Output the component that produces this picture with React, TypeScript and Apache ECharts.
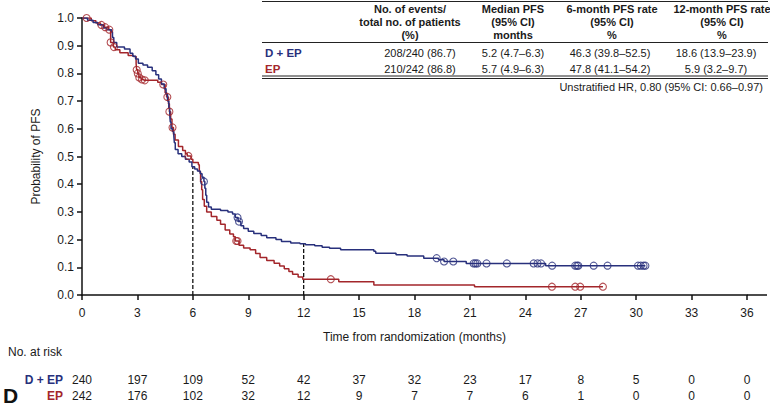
import React, { useEffect, useRef } from "react";
import * as echarts from "echarts";

const NAVY = "#28307c";
const RED = "#a3262b";
const FONT = "'Liberation Sans', Arial, sans-serif";

// Kaplan-Meier step points [months, probability]
const depCurve: number[][] = [
  [0, 1.0], [0.3, 0.992], [0.6, 0.984], [0.85, 0.976], [1.15, 0.964], [1.35, 0.958], [1.6, 0.95], [1.65, 0.93],
  [1.72, 0.912], [1.88, 0.895], [2.3, 0.888], [2.6, 0.873], [2.75, 0.862], [2.9, 0.852], [3.05, 0.837], [3.3, 0.83],
  [3.55, 0.822], [3.8, 0.81], [4.0, 0.795], [4.15, 0.78], [4.3, 0.762], [4.45, 0.745], [4.55, 0.725], [4.63, 0.7],
  [4.7, 0.675], [4.75, 0.65], [4.78, 0.625], [4.82, 0.6], [4.9, 0.59], [4.97, 0.575], [5.0, 0.55], [5.05, 0.525],
  [5.2, 0.51], [5.4, 0.5], [5.6, 0.49], [5.8, 0.48], [5.95, 0.463], [6.1, 0.455], [6.25, 0.448], [6.4, 0.438],
  [6.5, 0.425], [6.6, 0.41], [6.65, 0.385], [6.7, 0.36], [6.75, 0.335], [6.85, 0.318], [7.0, 0.31], [7.5, 0.305],
  [7.9, 0.3], [8.15, 0.292], [8.3, 0.28], [8.45, 0.265], [8.6, 0.25], [8.75, 0.24], [9.0, 0.23], [9.3, 0.222],
  [9.7, 0.215], [10.0, 0.207], [10.5, 0.2], [10.8, 0.193], [11.3, 0.188], [11.8, 0.185], [12.1, 0.181], [12.6, 0.178],
  [13.0, 0.172], [13.4, 0.169], [14.0, 0.163], [15.8, 0.158], [15.9, 0.151], [17.0, 0.145], [17.6, 0.141], [18.5, 0.133],
  [19.3, 0.127], [19.6, 0.121], [20.8, 0.114], [25.1, 0.106], [30.5, 0.106],
];
const epCurve: number[][] = [
  [0, 1.0], [0.5, 0.99], [0.75, 0.982], [1.0, 0.975], [1.2, 0.967], [1.45, 0.958], [1.55, 0.912], [1.7, 0.895],
  [1.8, 0.885], [2.05, 0.875], [2.5, 0.865], [2.78, 0.861], [2.93, 0.835], [2.96, 0.813], [3.02, 0.8], [3.08, 0.785],
  [3.2, 0.778], [3.35, 0.775], [4.1, 0.768], [4.3, 0.76], [4.5, 0.73], [4.58, 0.715], [4.68, 0.69], [4.73, 0.662],
  [4.8, 0.635], [4.87, 0.605], [4.95, 0.58], [5.04, 0.56], [5.22, 0.536], [5.45, 0.522], [5.6, 0.51], [5.7, 0.502],
  [5.9, 0.49], [6.0, 0.478], [6.3, 0.47], [6.35, 0.445], [6.42, 0.41], [6.48, 0.38], [6.53, 0.345], [6.62, 0.32],
  [6.75, 0.3], [7.0, 0.283], [7.3, 0.27], [7.5, 0.255], [7.75, 0.235], [8.0, 0.22], [8.2, 0.21], [8.3, 0.195],
  [8.5, 0.18], [8.75, 0.17], [9.1, 0.163], [9.4, 0.15], [9.64, 0.135], [10.0, 0.125], [10.4, 0.115], [10.7, 0.105],
  [10.95, 0.095], [11.2, 0.085], [11.4, 0.075], [11.7, 0.065], [11.95, 0.057], [13.9, 0.048], [15.8, 0.036],
  [21.25, 0.03], [28.2, 0.03],
];
const depCensor = [6.6, 8.42, 8.5, 19.2, 19.6, 20.1, 21.2, 21.3, 21.4, 21.9, 23.0, 24.45, 24.66, 24.85, 25.45,
  26.7, 26.8, 26.87, 27.7, 28.45, 30.1, 30.25, 30.4, 30.5];
const epCensor = [0.25, 1.05, 1.25, 1.48, 1.55, 1.73, 2.96, 3.02, 3.1, 3.25, 3.4, 4.4, 4.62, 4.73, 4.9, 5.76,
  8.35, 8.42, 13.47, 25.44, 26.7, 26.97, 28.2];

const landmarkTimes = [6, 12];
const landmarkRates = [0.463, 0.186];

const riskTimes = [0, 3, 6, 9, 12, 15, 18, 21, 24, 27, 30, 33, 36];
const depRisk = [240, 197, 109, 52, 42, 37, 32, 23, 17, 8, 5, 0, 0];
const epRisk = [242, 176, 102, 32, 12, 9, 7, 7, 6, 1, 0, 0, 0];

const tableHeaders = [
  ["No. of events/", "total no. of patients", "(%)"],
  ["Median PFS", "(95% CI)", "months"],
  ["6-month PFS rate", "(95% CI)", "%"],
  ["12-month PFS rate", "(95% CI)", "%"],
];
const depRow = ["208/240 (86.7)", "5.2 (4.7\u20136.3)", "46.3 (39.8\u201352.5)", "18.6 (13.9\u201323.9)"];
const epRow = ["210/242 (86.8)", "5.7 (4.9\u20136.3)", "47.8 (41.1\u201354.2)", "5.9 (3.2\u20139.7)"];
const hrText = "Unstratified HR, 0.80 (95% CI: 0.66\u20130.97)";

function survAt(curve: number[][], t: number) {
  let s = curve[0][1];
  for (const p of curve) if (p[0] <= t) s = p[1];
  return s;
}

export default function App() {
  const ref = useRef<HTMLDivElement>(null);
  useEffect(() => {
    const chart = echarts.init(ref.current!, null, { renderer: "svg" });
    const axisText = { color: "#1a1a1a", fontFamily: FONT, fontSize: 12 };
    const option: any = {
      animation: false,
      backgroundColor: "#fff",
      grid: { left: 82, right: 23, top: 18, bottom: 113 },
      xAxis: {
        type: "value", min: 0, max: 36, interval: 3,
        name: "Time from randomization (months)", nameLocation: "middle", nameGap: 36,
        nameTextStyle: axisText,
        axisLine: { lineStyle: { color: "#111", width: 1.5 } },
        axisTick: { length: 5, lineStyle: { color: "#111", width: 1.5 } },
        axisLabel: { ...axisText, margin: 12 },
        splitLine: { show: false },
      },
      yAxis: {
        type: "value", min: 0, max: 1, interval: 0.1,
        name: "Probability of PFS", nameLocation: "middle", nameGap: 40,
        nameTextStyle: axisText,
        axisLine: { show: true, lineStyle: { color: "#111", width: 1.5 } },
        axisTick: { show: true, length: 5, lineStyle: { color: "#111", width: 1.5 } },
        axisLabel: { ...axisText, margin: 8, formatter: (v: number) => v.toFixed(1) },
        splitLine: { show: false },
      },
      series: [
        ...landmarkTimes.map((t, i) => ({
          type: "line", data: [[t, 0], [t, landmarkRates[i]]], showSymbol: false, silent: true,
          lineStyle: { color: "#111", width: 1.3, type: [4, 2] }, z: 1,
        })),
        {
          type: "line", step: "end", data: epCurve, showSymbol: false,
          lineStyle: { color: RED, width: 1.5 }, z: 2,
        },
        {
          type: "line", step: "end", data: depCurve, showSymbol: false,
          lineStyle: { color: NAVY, width: 1.5 }, z: 3,
        },
        {
          type: "scatter", data: epCensor.map((t) => [t, survAt(epCurve, t)]), symbol: "circle", symbolSize: 7,
          itemStyle: { color: "rgba(0,0,0,0)", borderColor: RED, borderWidth: 1.1 }, z: 4,
        },
        {
          type: "scatter", data: depCensor.map((t) => [t, survAt(depCurve, t)]), symbol: "circle", symbolSize: 7,
          itemStyle: { color: "rgba(0,0,0,0)", borderColor: NAVY, borderWidth: 1.1 }, z: 5,
        },
      ],
    };
    chart.setOption(option);

    const px = (t: number) => chart.convertToPixel({ gridIndex: 0 }, [t, 0]) as number[];
    const g: any[] = [];
    const axisEnd = px(36);
    g.push({ type: "line", shape: { x1: axisEnd[0], y1: axisEnd[1], x2: 767, y2: axisEnd[1] }, style: { stroke: "#111", lineWidth: 1.5 } });

    const txt = (text: string, x: number, y: number, o: any = {}) => ({
      type: "text", x, y,
      style: { text, fontFamily: FONT, fontSize: 12, fill: "#1a1a1a", align: "center", verticalAlign: "middle", ...o },
    });

    // At-risk table
    g.push(txt("No. at risk", 8, 352, { align: "left" }));
    g.push(txt("D + EP", 63, 380, { align: "right", fontWeight: "bold", fill: NAVY }));
    g.push(txt("EP", 63, 396, { align: "right", fontWeight: "bold", fill: RED }));
    riskTimes.forEach((t, i) => {
      const x = px(t)[0];
      g.push(txt(String(depRisk[i]), x, 380));
      g.push(txt(String(epRisk[i]), x, 396));
    });
    g.push(txt("D", 3, 395, { align: "left", fontWeight: "bold", fontSize: 21, fill: "#111" }));

    // Summary table
    const colX = [410, 513, 612, 722];
    const dataX = [420, 513, 610, 716];
    const hl = (y: number) => ({ type: "line", shape: { x1: 262, y1: y, x2: 768, y2: y }, style: { stroke: "#222", lineWidth: 1 } });
    g.push(hl(1.5), hl(42.5), hl(76), hl(78.5));
    tableHeaders.forEach((lines, c) => {
      lines.forEach((l, r) => g.push(txt(l, colX[c], 8.5 + r * 13.3, { fontSize: 11, fontWeight: "bold" })));
    });
    g.push(txt("D + EP", 265, 53, { align: "left", fontSize: 11.5, fontWeight: "bold", fill: NAVY }));
    g.push(txt("EP", 265, 69, { align: "left", fontSize: 11.5, fontWeight: "bold", fill: RED }));
    depRow.forEach((v, c) => g.push(txt(v, dataX[c], 53, { fontSize: 11 })));
    epRow.forEach((v, c) => g.push(txt(v, dataX[c], 69, { fontSize: 11 })));
    g.push(txt(hrText, 763, 87, { align: "right", fontSize: 11 }));

    chart.setOption({ graphic: g });
    return () => chart.dispose();
  }, []);
  return <div ref={ref} style={{ position: "fixed", left: 0, top: 0, width: 770, height: 408 }} />;
}
